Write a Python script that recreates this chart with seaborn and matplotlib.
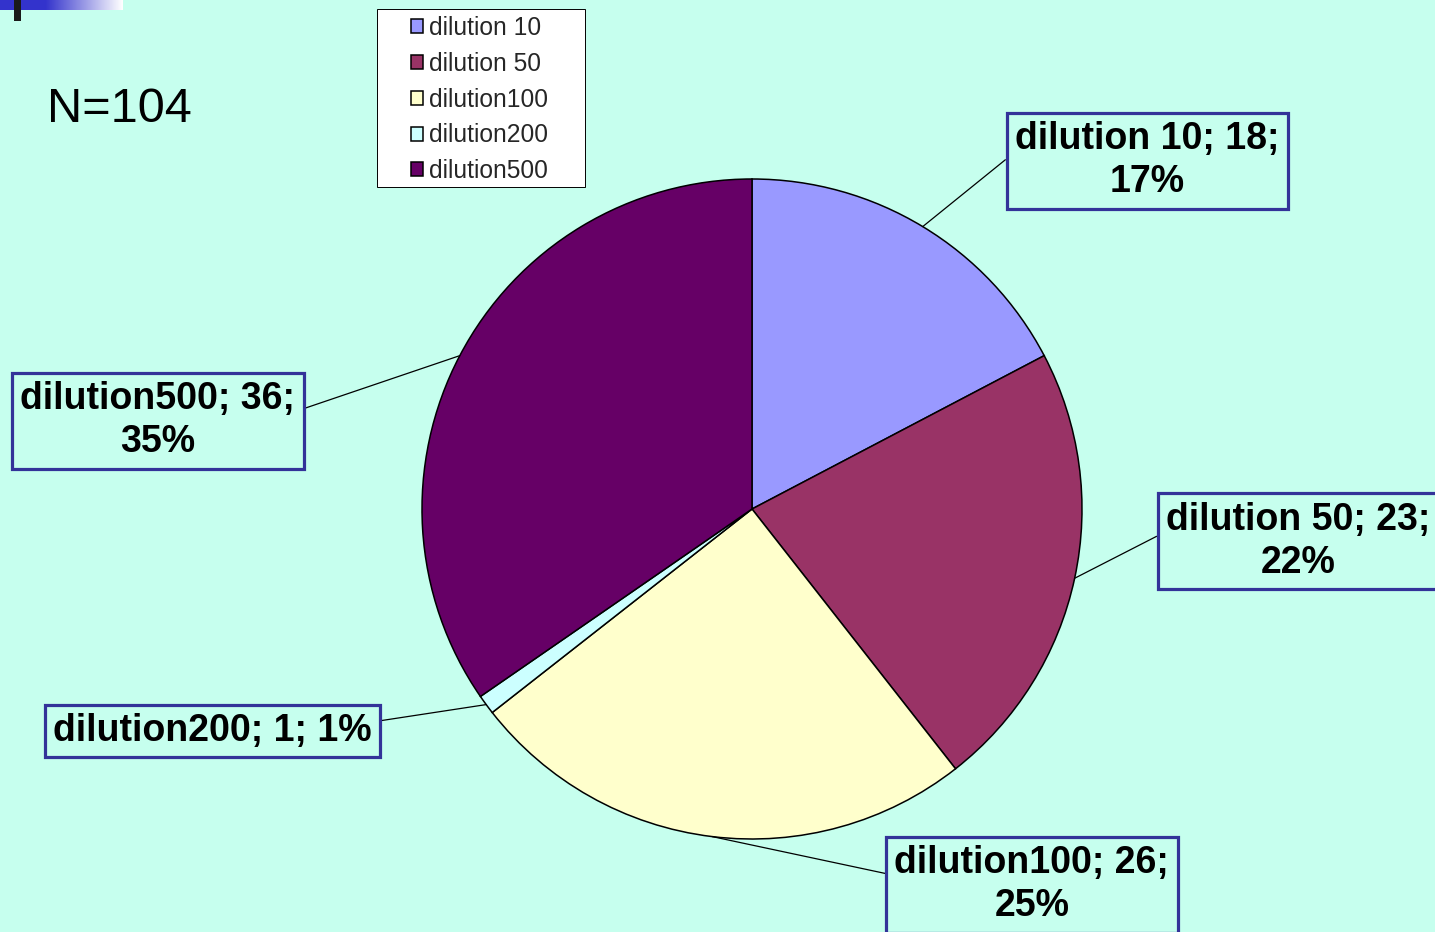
import numpy as np
import matplotlib
matplotlib.use("Agg")
import matplotlib.pyplot as plt
import seaborn as sns

# data
categories = ["dilution 10", "dilution 50", "dilution100", "dilution200", "dilution500"]
counts = [18, 23, 26, 1, 36]
percents = ["17%", "22%", "25%", "1%", "35%"]
hex_colors = ["#9999FF", "#993366", "#FFFFCC", "#CCFFFF", "#660066"]
n_total = "N=104"

# label box centres, in pie-radius units
label_pos = [(1.197, 1.055), (1.655, -0.097), (0.848, -1.139), (-1.636, -0.673), (-1.80, 0.267)]
# where the leader line leaves the box (relative position on the box)
label_rel = [(0.0, 0.61), (0.0, 0.62), (0.0, 0.62), (1.0, 0.75), (1.0, 0.62)]

sns.set_style("white")
plt.rcParams["font.family"] = ["Liberation Sans", "DejaVu Sans"]

bg = "#C6FFEE"
W, H = 1435, 932
fig = plt.figure(figsize=(W / 100, H / 100), dpi=100, facecolor=bg)

colors = sns.color_palette(hex_colors)

# slide decoration / legend frame layer (pixel coordinates)
deco = fig.add_axes([0, 0, 1, 1], zorder=-1)
deco.axis("off")
deco.add_patch(plt.Rectangle((0, 0), 46, 10, color="#3333CC", lw=0))
grad = np.linspace(0, 1, 100)[None, :]
deco.imshow(grad, cmap=matplotlib.colors.LinearSegmentedColormap.from_list("g", ["#3333CC", "white"]),
            extent=(45, 123, 10, 0), aspect="auto")
deco.add_patch(plt.Rectangle((14, 0), 7, 21, color="#1a1a1a", lw=0))
deco.add_patch(plt.Rectangle((376.5, 8.5), 208, 178, fc="white", ec="black", lw=0.7))
deco.set_xlim(0, W)
deco.set_ylim(H, 0)

# pie centre (752, 509) px, radius 330 px
cx, cy, r = 752, 509, 330
ax = fig.add_axes([(cx - r) / W, (H - cy - r) / H, 2 * r / W, 2 * r / H])
ax.set_facecolor(bg)
wedges, _ = ax.pie(counts, colors=colors, startangle=90, counterclock=False, radius=1,
                   wedgeprops=dict(edgecolor="black", linewidth=1.1))
ax.set_xlim(-1, 1)
ax.set_ylim(-1, 1)
ax.set_aspect("equal")
ax.axis("off")

for w, cat, c, p, pos, rel in zip(wedges, categories, counts, percents, label_pos, label_rel):
    mid = np.deg2rad((w.theta1 + w.theta2) / 2)
    xy = (np.cos(mid), np.sin(mid))
    if c == 1:
        txt = f"{cat}; {c}; {p}"
    else:
        txt = f"{cat}; {c};\n{p}"
    ax.annotate(txt, xy=xy, xytext=pos, textcoords="data", ha="center", va="center",
                multialignment="center", fontsize=27, fontweight="bold", color="black",
                linespacing=1.25, annotation_clip=False,
                bbox=dict(boxstyle="square,pad=0.22", fc=bg, ec="#333399", lw=2.3),
                arrowprops=dict(arrowstyle="-", color="black", lw=0.9, relpos=rel,
                                shrinkA=0, shrinkB=0))

leg = fig.legend(wedges, categories, loc="upper left",
                 bbox_to_anchor=(411 / W, 1 - 16 / H), bbox_transform=fig.transFigure,
                 fontsize=17.7, frameon=False, handlelength=0.5, handleheight=0.5,
                 handletextpad=0.25, labelspacing=0.48, borderpad=0, borderaxespad=0)

fig.text(47 / W, 1 - 109 / H, n_total, fontsize=35, va="center", ha="left", color="black")

fig.savefig("out.png", dpi=100, facecolor=bg)
